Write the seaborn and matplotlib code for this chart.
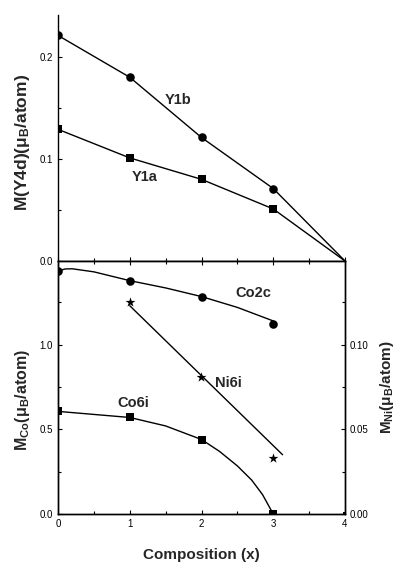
import numpy as np
import pandas as pd
import matplotlib
matplotlib.use("Agg")
import matplotlib.pyplot as plt
import seaborn as sns
from matplotlib.ticker import MultipleLocator, FormatStrFormatter

# ──────────────────────────────────────────────
# Data
# ──────────────────────────────────────────────

x_y = [0, 1, 2, 3, 4]
y1b = [0.221, 0.180, 0.121, 0.071, 0.0]
y1a = [0.129, 0.101, 0.080, 0.051, 0.0]

x_co = [0, 1, 2, 3]
co2c = [1.437, 1.378, 1.284, 1.124]
co6i = [0.606, 0.570, 0.437, 0.0]

# guide curves drawn through the points
co2c_curve_x = [0, 0.1, 0.2, 0.5, 1, 1.5, 2, 2.5, 3]
co2c_curve_y = [1.435, 1.447, 1.448, 1.43, 1.378, 1.335, 1.284, 1.22, 1.14]
co6i_curve_x = [0, 1, 1.5, 2, 2.25, 2.5, 2.7, 2.85, 3]
co6i_curve_y = [0.606, 0.570, 0.520, 0.440, 0.370, 0.284, 0.200, 0.115, 0.0]

x_ni = [1, 2, 3]
ni6i = [0.125, 0.081, 0.033]
ni6i_fit_x = [1, 3.13]
ni6i_fit_y = [0.123, 0.035]

labels = {
    "Y1b": (1.67, 0.158),
    "Y1a": (1.21, 0.082),
}
labels_co = {
    "Co2c": (2.72, 1.306),
    "Co6i": (1.05, 0.653),
    "Ni6i": (2.37, 0.776),
}

# ──────────────────────────────────────────────
# Style
# ──────────────────────────────────────────────

sns.set_theme(style="ticks")
plt.rcParams["font.family"] = ["Liberation Sans", "DejaVu Sans"]
plt.rcParams["mathtext.default"] = "regular"

W, H = 401, 563
fig = plt.figure(figsize=(W / 100, H / 100), dpi=100)

left, right = 58 / W, 345 / W
ax_top = fig.add_axes([left, 1 - 261 / H, right - left, (261 - 15) / H])
ax_bot = fig.add_axes([left, 1 - 514 / H, right - left, (514 - 261) / H])
ax_ni = ax_bot.twinx()

lw = 1.0
mk = dict(color="black", edgecolor="black", linewidth=0, zorder=3)

# top panel: Y sites
top = pd.DataFrame({"x": x_y, "Y1b": y1b, "Y1a": y1a})
sns.lineplot(data=top, x="x", y="Y1b", ax=ax_top, color="black", lw=lw)
sns.lineplot(data=top, x="x", y="Y1a", ax=ax_top, color="black", lw=lw)
sns.scatterplot(data=top.iloc[:4], x="x", y="Y1b", ax=ax_top, marker="o", s=38, **mk)
sns.scatterplot(data=top.iloc[:4], x="x", y="Y1a", ax=ax_top, marker="s", s=26, **mk)

ax_top.set_xlim(0, 4)
ax_top.set_ylim(0, 0.241)
ax_top.yaxis.set_major_locator(MultipleLocator(0.1))
ax_top.yaxis.set_minor_locator(MultipleLocator(0.05))
ax_top.yaxis.set_major_formatter(FormatStrFormatter("%.1f"))
ax_top.xaxis.set_major_locator(MultipleLocator(1))
ax_top.xaxis.set_minor_locator(MultipleLocator(0.5))
ax_top.tick_params(axis="x", labelbottom=False)
ax_top.spines["top"].set_visible(False)
ax_top.spines["right"].set_visible(False)
ax_top.set_xlabel("")
ax_top.set_ylabel("M(Y4d)(μ$_B$/atom)", fontsize=12.5, fontweight="bold")
ax_top.yaxis.set_label_coords(-0.09, 0.48)
for txt, (tx, ty) in labels.items():
    ax_top.text(tx, ty, txt, fontsize=10.5, fontweight="bold", ha="center", va="center")

# lower panel: Co sites (left) and Ni (right)
sns.lineplot(x=co2c_curve_x, y=co2c_curve_y, ax=ax_bot, color="black", lw=lw)
sns.lineplot(x=co6i_curve_x, y=co6i_curve_y, ax=ax_bot, color="black", lw=lw)
sns.scatterplot(x=x_co, y=co2c, ax=ax_bot, marker="o", s=38, **mk)
sns.scatterplot(x=x_co, y=co6i, ax=ax_bot, marker="s", s=26, **mk)
sns.scatterplot(x=[4], y=[0], ax=ax_bot, marker="s", s=10, **mk)

sns.lineplot(x=ni6i_fit_x, y=ni6i_fit_y, ax=ax_ni, color="black", lw=lw)
sns.scatterplot(x=x_ni, y=ni6i, ax=ax_ni, marker="*", s=55, **mk)

ax_bot.set_xlim(0, 4)
ax_bot.set_ylim(0, 1.494)
ax_ni.set_ylim(0, 0.1494)
ax_bot.xaxis.set_major_locator(MultipleLocator(1))
ax_bot.xaxis.set_minor_locator(MultipleLocator(0.5))
ax_bot.yaxis.set_major_locator(MultipleLocator(0.5))
ax_bot.yaxis.set_minor_locator(MultipleLocator(0.25))
ax_bot.yaxis.set_major_formatter(FormatStrFormatter("%.1f"))
ax_ni.yaxis.set_major_locator(MultipleLocator(0.05))
ax_ni.yaxis.set_minor_locator(MultipleLocator(0.025))
ax_ni.yaxis.set_major_formatter(FormatStrFormatter("%.2f"))

ax_bot.set_xlabel("Composition (x)", fontsize=11, fontweight="bold", labelpad=14)
ax_bot.set_ylabel("M$_{Co}$(μ$_B$/atom)", fontsize=11.5, fontweight="bold")
ax_bot.yaxis.set_label_coords(-0.09, 0.45)
ax_ni.set_ylabel("M$_{Ni}$(μ$_B$/atom)", fontsize=11, fontweight="bold")
ax_ni.yaxis.set_label_coords(1.115, 0.5)
for txt, (tx, ty) in labels_co.items():
    ax_bot.text(tx, ty, txt, fontsize=10.5, fontweight="bold", ha="center", va="center")

for ax in (ax_top, ax_bot, ax_ni):
    for sp in ax.spines.values():
        sp.set_linewidth(1.0)
        sp.set_color("black")
    ax.tick_params(which="both", direction="in", labelsize=7, width=0.8, colors="black")
    ax.tick_params(which="major", length=3)
    ax.tick_params(which="minor", length=2)
ax_bot.tick_params(axis="x", which="both", top=True)
ax_bot.tick_params(axis="y", which="both", right=False)
ax_ni.tick_params(axis="y", which="both", left=False)

# hide the 1.5 label that would collide with the top panel's 0.0
ax_bot.set_yticks([0, 0.5, 1.0])

fig.savefig("out.png", dpi=100)
